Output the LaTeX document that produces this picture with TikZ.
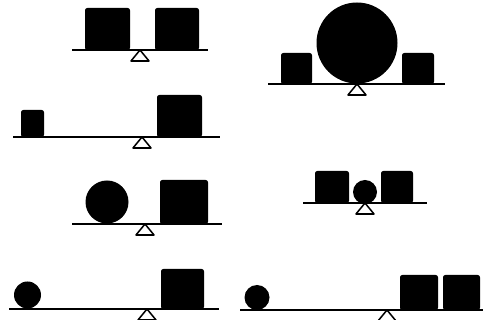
\documentclass[tikz,border=0pt]{standalone}
\usetikzlibrary{positioning}
\tikzset{
  block/.style={fill=black, rounded corners=2pt},
  ball/.style={fill=black},
  beam/.style={line width=1.6pt, black},
  pivot/.style={draw=black, fill=white, line width=1.3pt, line join=round},
}
\newcommand{\fulcrum}[2]{\filldraw[pivot] (#1,#2) -- ++(-9,11) -- ++(18,0) -- cycle;}

\begin{document}
\begin{tikzpicture}[x=0.3mm, y=-0.3mm]
\useasboundingbox (0,0) rectangle (485,320);

% two equal boxes
\begin{scope}
  \fulcrum{140}{50}
  \fill[block] (85,50) rectangle (130,8);
  \fill[block] (155,50) rectangle (199,8);
  \draw[beam] (72,50) -- (208,50);
\end{scope}

% big ball between two small boxes
\begin{scope}
  \fulcrum{357}{84}
  \fill[block] (281,84) rectangle (312,53);
  \fill[block] (402,84) rectangle (434,53);
  \fill[ball] (357,43) circle (40.5);
  \draw[beam] (268,84) -- (445,84);
\end{scope}

% small box far out, big box near
\begin{scope}
  \fulcrum{142}{137}
  \fill[block] (21,137) rectangle (44,110);
  \fill[block] (157,137) rectangle (202,95);
  \draw[beam] (13,137) -- (220,137);
\end{scope}

% ball against box
\begin{scope}
  \fulcrum{145}{224}
  \fill[ball] (107,202) circle (21.5);
  \fill[block] (160,224) rectangle (208,180);
  \draw[beam] (72,224) -- (222,224);
\end{scope}

% small ball on the pivot
\begin{scope}
  \fulcrum{365}{203}
  \fill[block] (315,203) rectangle (349,171);
  \fill[block] (381,203) rectangle (413,171);
  \fill[ball] (365,192) circle (12);
  \draw[beam] (303,203) -- (427,203);
\end{scope}

% ball far out, one box
\begin{scope}
  \fulcrum{147}{309}
  \fill[ball] (27.5,295) circle (13.5);
  \fill[block] (161,309) rectangle (204,269);
  \draw[beam] (9,309) -- (219,309);
\end{scope}

% ball far out, two boxes
\begin{scope}
  \fulcrum{387}{310}
  \fill[ball] (257,297.5) circle (12.5);
  \fill[block] (400,310) rectangle (438,275);
  \fill[block] (443,310) rectangle (480,275);
  \draw[beam] (240,310) -- (483,310);
\end{scope}

\end{tikzpicture}
\end{document}
